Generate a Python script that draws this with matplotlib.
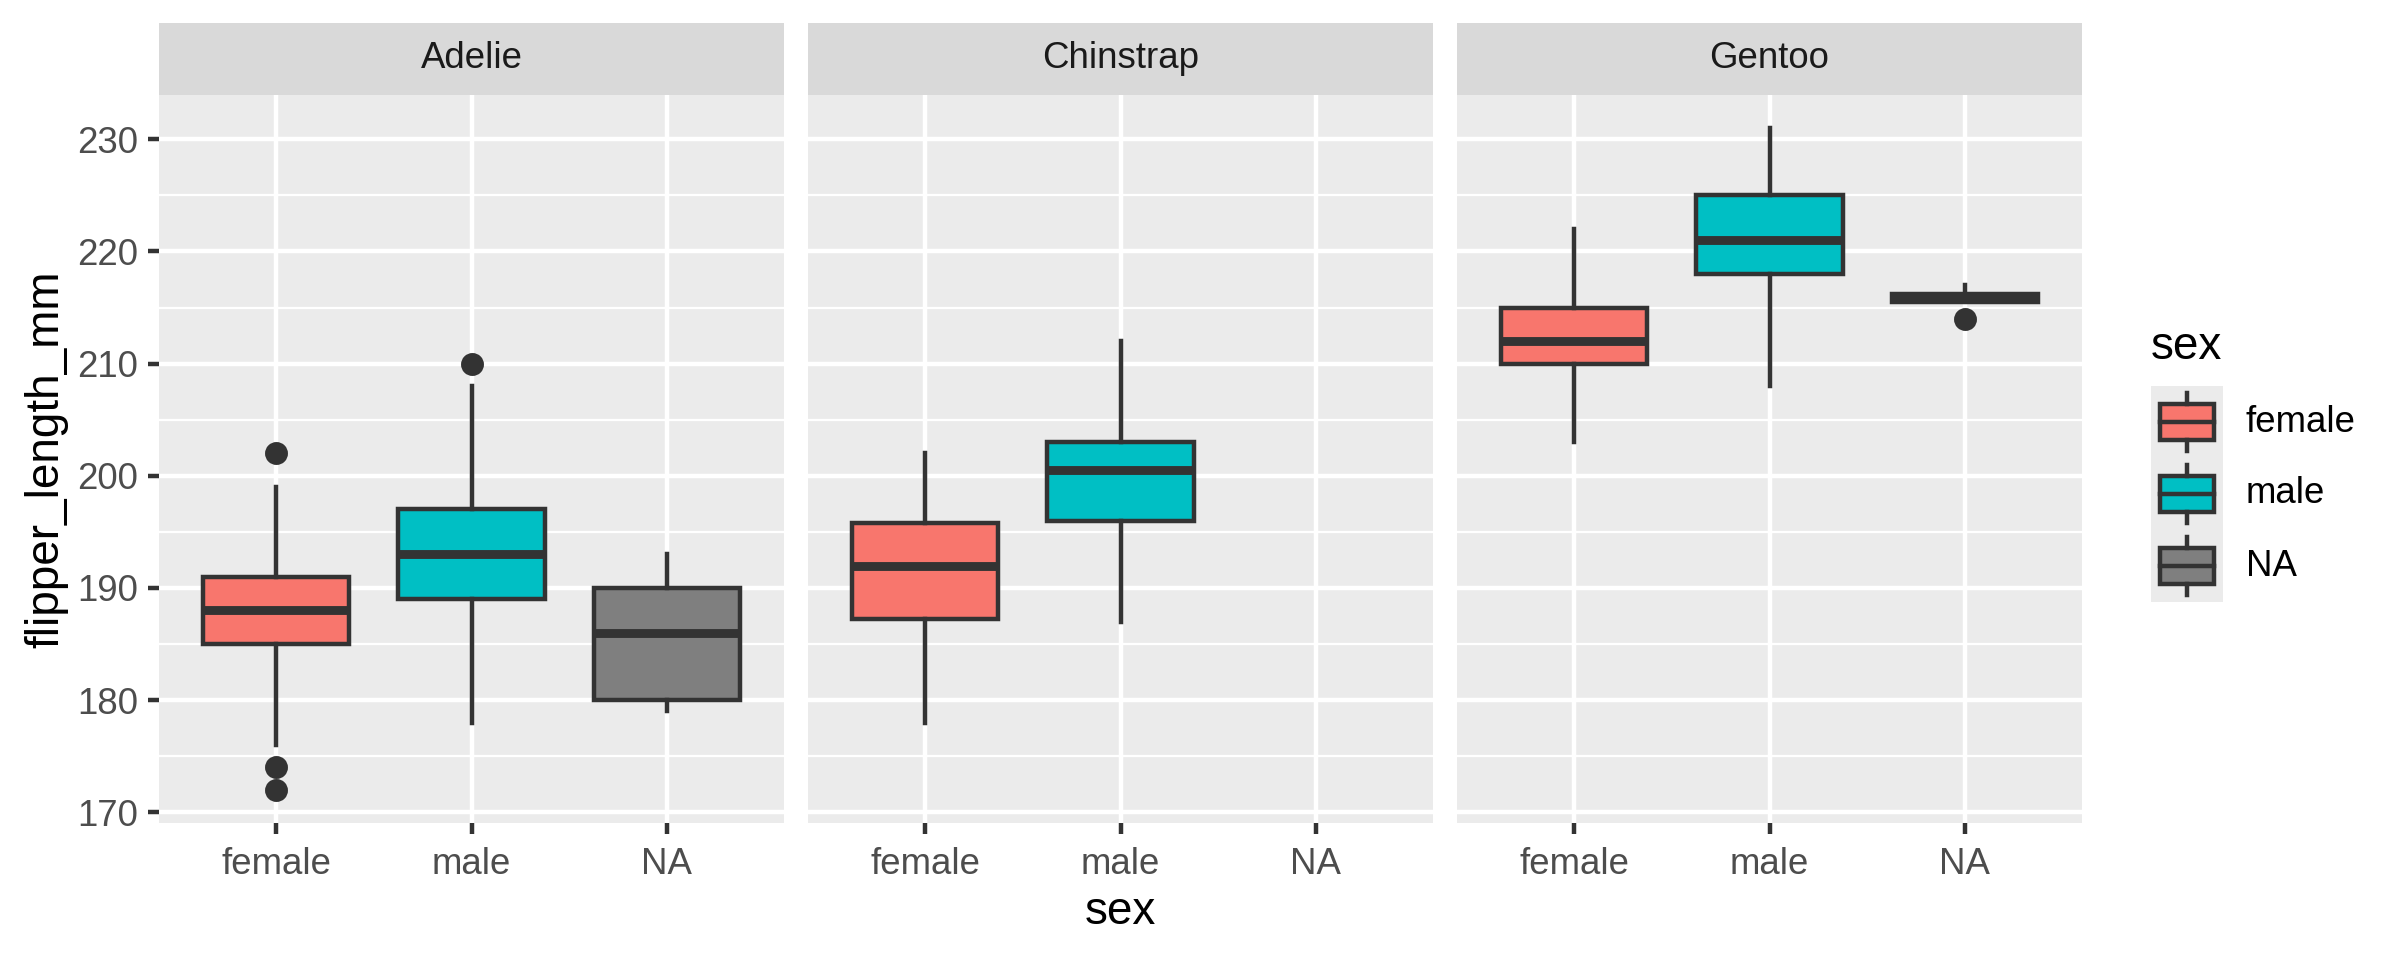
import matplotlib
matplotlib.use("Agg")
import matplotlib.pyplot as plt
from matplotlib.patches import Rectangle

plt.rcParams['font.family'] = ['Liberation Sans', 'DejaVu Sans']

# ================================
# Data (five-number summaries per species / sex)
# ================================
species = ["Adelie", "Chinstrap", "Gentoo"]
sex_levels = ["female", "male", "NA"]
sex_colors = ["#F8766D", "#00BFC4", "#7F7F7F"]

adelie_q1 = [185, 189, 180]
adelie_med = [188, 193, 186]
adelie_q3 = [191, 197, 190]
adelie_lo = [176, 178, 179]
adelie_hi = [199, 208, 193]
adelie_out = [[202, 174, 172], [210], []]

# Chinstrap has no NA group
chinstrap_q1 = [187.25, 196]
chinstrap_med = [192, 200.5]
chinstrap_q3 = [195.75, 203]
chinstrap_lo = [178, 187]
chinstrap_hi = [202, 212]
chinstrap_out = [[], []]

gentoo_q1 = [210, 218, 215.5]
gentoo_med = [212, 221, 216]
gentoo_q3 = [215, 225, 216.25]
gentoo_lo = [203, 208, 215.5]
gentoo_hi = [222, 231, 217]
gentoo_out = [[], [], [214]]

y_ticks = [170, 180, 190, 200, 210, 220, 230]
y_minor = [175, 185, 195, 205, 215, 225]

panels = {
    "Adelie": (adelie_q1, adelie_med, adelie_q3, adelie_lo, adelie_hi, adelie_out),
    "Chinstrap": (chinstrap_q1, chinstrap_med, chinstrap_q3, chinstrap_lo, chinstrap_hi, chinstrap_out),
    "Gentoo": (gentoo_q1, gentoo_med, gentoo_q3, gentoo_lo, gentoo_hi, gentoo_out),
}

# ================================
# Layout
# ================================
W, H = 2400, 960
fig = plt.figure(figsize=(8, 3.2), dpi=300)
fig.patch.set_facecolor("white")

dark = "#333333"
lw = 1.07
panel_lefts = [159, 808, 1457]
panel_w = 625
panel_top, panel_bot = 95, 823
strip_top = 23

for i, (name, (q1, med, q3, lo, hi, out)) in enumerate(panels.items()):
    left = panel_lefts[i] / W
    ax = fig.add_axes([left, 1 - panel_bot / H, panel_w / W, (panel_bot - panel_top) / H])
    ax.set_facecolor("#EBEBEB")
    for s in ax.spines.values():
        s.set_visible(False)

    # grid
    for y in y_ticks:
        ax.axhline(y, color="white", lw=1.07, zorder=0)
    for y in y_minor:
        ax.axhline(y, color="white", lw=0.53, zorder=0)
    for x in range(1, len(sex_levels) + 1):
        ax.axvline(x, color="white", lw=1.07, zorder=0)

    stats = []
    for k in range(len(q1)):
        stats.append(dict(med=med[k], q1=q1[k], q3=q3[k],
                          whislo=lo[k], whishi=hi[k], fliers=out[k]))
    bp = ax.bxp(stats, positions=list(range(1, len(q1) + 1)), widths=0.75,
                patch_artist=True, showcaps=False, manage_ticks=False,
                boxprops=dict(edgecolor=dark, linewidth=lw),
                whiskerprops=dict(color=dark, linewidth=lw),
                medianprops=dict(color=dark, linewidth=2.13, solid_capstyle="butt"),
                flierprops=dict(marker="o", markerfacecolor=dark,
                                markeredgecolor=dark, markersize=4.5))
    for k, box in enumerate(bp["boxes"]):
        box.set_facecolor(sex_colors[k])
        box.set_zorder(2)

    ax.set_xlim(0.4, 3.6)
    ax.set_ylim(169.05, 233.95)
    ax.set_xticks([1, 2, 3])
    ax.set_xticklabels(sex_levels)
    ax.set_yticks(y_ticks)
    ax.tick_params(axis="both", length=2.75, width=lw, color=dark,
                   labelsize=8.8, labelcolor="#4D4D4D", pad=2.2)
    ax.tick_params(axis="x", pad=2.9)
    if i > 0:
        ax.tick_params(axis="y", left=False, labelleft=False)

    # facet strip
    sax = fig.add_axes([left, 1 - panel_top / H, panel_w / W, (panel_top - strip_top) / H])
    sax.set_facecolor("#D9D9D9")
    sax.set_xticks([])
    sax.set_yticks([])
    for s in sax.spines.values():
        s.set_visible(False)
    sax.text(0.5, 0.5, name, ha="center", va="center", fontsize=8.8,
             color="#1A1A1A", transform=sax.transAxes)

# axis titles
fig.text(46 / W, 1 - 459 / H, "flipper_length_mm", rotation=90,
         ha="center", va="center", fontsize=11, color="black")
fig.text(1120 / W, 1 - 912 / H, "sex", ha="center", va="center",
         fontsize=11, color="black")

# ================================
# Legend (drawn by hand, ggplot style)
# ================================
fig.text(2151 / W, 1 - 347 / H, "sex", ha="left", va="center", fontsize=11, color="black")
lax = fig.add_axes([2151 / W, 1 - 602 / H, 72 / W, 216 / H])
lax.set_facecolor("#EBEBEB")
lax.set_xlim(0, 1)
lax.set_ylim(0, 3)
lax.set_xticks([])
lax.set_yticks([])
for s in lax.spines.values():
    s.set_visible(False)
for k, (lab, col) in enumerate(zip(sex_levels, sex_colors)):
    b = 2 - k
    lax.add_patch(Rectangle((0.125, b + 0.25), 0.75, 0.5, facecolor=col,
                            edgecolor=dark, lw=lw))
    lax.plot([0.125, 0.875], [b + 0.5, b + 0.5], color=dark, lw=lw)
    lax.plot([0.5, 0.5], [b + 0.1, b + 0.25], color=dark, lw=lw)
    lax.plot([0.5, 0.5], [b + 0.75, b + 0.9], color=dark, lw=lw)
    fig.text(2246 / W, 1 - (422 + 72 * k) / H, lab, ha="left", va="center",
             fontsize=8.8, color="black")

fig.savefig("out.png", dpi=300)
